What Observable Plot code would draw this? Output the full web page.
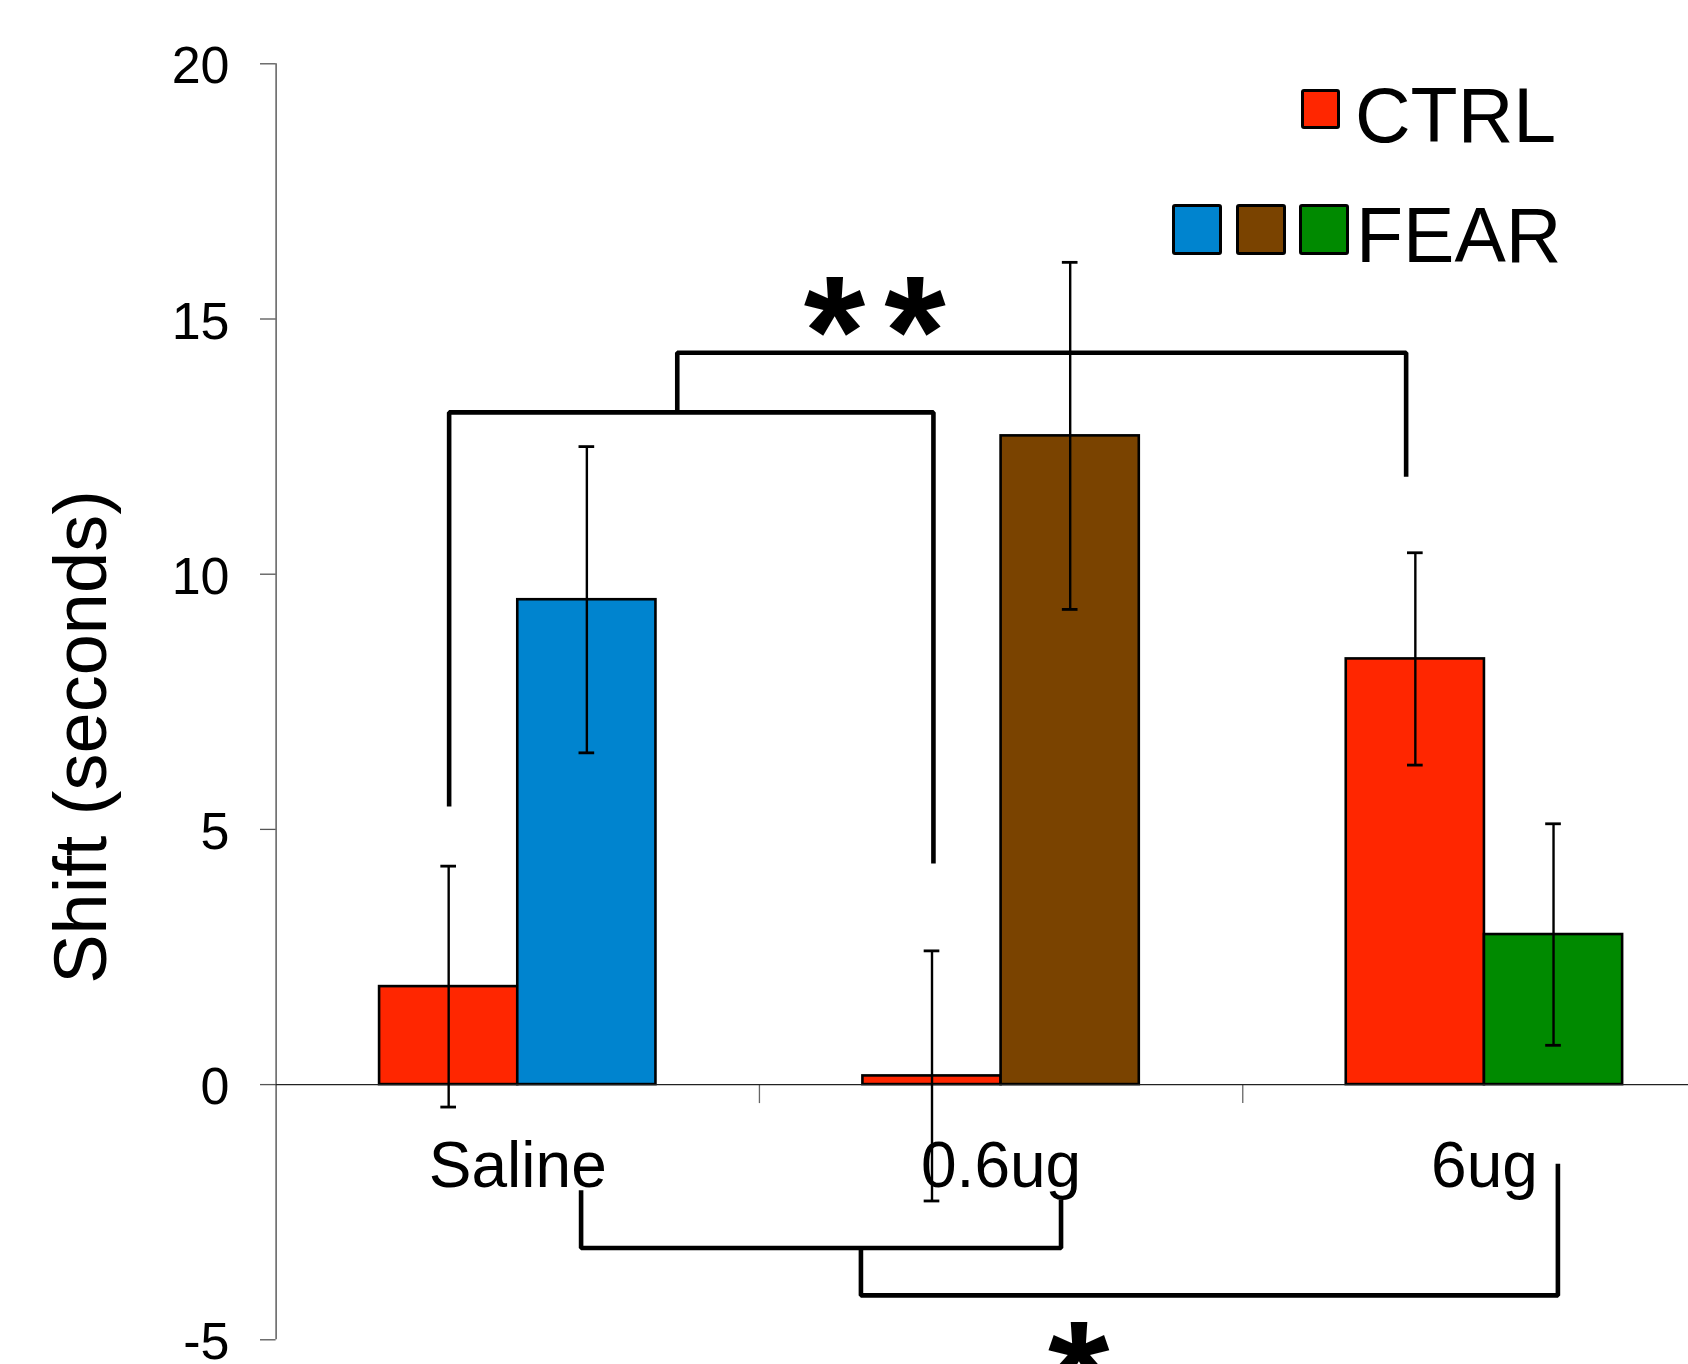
<!DOCTYPE html>
<html>
<head>
<meta charset="utf-8">
<script src="https://cdn.jsdelivr.net/npm/d3@7"></script>
<script src="https://cdn.jsdelivr.net/npm/@observablehq/plot@0.6"></script>
<style>
  body { margin: 0; background: #fff; }
  #wrap { position: relative; width: 1688px; height: 1364px; overflow: hidden; font-family: "Liberation Sans", Arial, sans-serif; background: #fff; }
  #wrap svg { display: block; }
  .sw { position: absolute; border: 3px solid #000; border-radius: 3px; box-sizing: border-box; }
  .lt { position: absolute; font-size: 77px; line-height: 1; color: #000; white-space: nowrap; }
</style>
</head>
<body>
<div id="wrap"></div>
<script>
// ---- data ----
const categories = ["Saline", "0.6ug", "6ug"];
const ctrlMean = [1.92, 0.17, 8.34];
const ctrlErr  = [2.36, 2.45, 2.08];
const fearMean = [9.50, 12.71, 2.94];
const fearErr  = [3.00, 3.40, 2.17];
const ctrlColor = "#ff2600";
const fearColors = ["#0084cf", "#7a4300", "#008a00"];
const yTicks = [-5, 0, 5, 10, 15, 20];
const yLabel = "Shift (seconds)";
const legendLabels = ["CTRL", "FEAR"];
// significance brackets: x in group units (group i spans i..i+1), y in seconds
const bracketA = [[0.358, 5.45], [0.358, 13.17], [1.360, 13.17], [1.360, 4.33]];
const bracketB = [[0.830, 13.17], [0.830, 14.34], [2.338, 14.34], [2.338, 11.91]];
const bracketC = [[0.631, -2.07], [0.631, -3.20], [1.624, -3.20], [1.624, -2.25]];
const bracketD = [[1.210, -3.20], [1.210, -4.13], [2.652, -4.13], [2.652, -1.55]];
const sigLabels = ["**", "*"];
const sigX = [1.2385, 1.6608];
const sigY = [15.23, -5.24];

// ---- layout / style ----
const W = 1688, H = 1364;
const mLeft = 275.6, mTop = 63.3, mBottom = 24.7;
const xRange = [275.6, 1725.6];
const BAR_IN = 0.2141;        // gap before first bar in a group (group units)
const CAP_HALF = 0.0162;      // half cap width (group units)
const FONT = '"Liberation Sans", Arial, sans-serif';

const bars = [];
categories.forEach((c, i) => {
  bars.push({cat: c, g: i, series: "CTRL", value: ctrlMean[i], err: ctrlErr[i], color: ctrlColor});
  bars.push({cat: c, g: i, series: "FEAR", value: fearMean[i], err: fearErr[i], color: fearColors[i]});
});
const bx1 = d => d.g + (d.series === "CTRL" ? BAR_IN : 0.5);
const bx2 = d => d.g + (d.series === "CTRL" ? 0.5 : 1 - BAR_IN);
const bxc = d => (bx1(d) + bx2(d)) / 2;
const caps = bars.flatMap(d => [
  {x1: bxc(d) - CAP_HALF, x2: bxc(d) + CAP_HALF, y: d.value + d.err},
  {x1: bxc(d) - CAP_HALF, x2: bxc(d) + CAP_HALF, y: d.value - d.err}
]);
const bracketPts = [bracketA, bracketB, bracketC, bracketD]
  .flatMap((b, k) => b.map(([x, y]) => ({id: k, x, y})));
const sig = sigLabels.map((t, i) => ({text: t, x: sigX[i], y: sigY[i]}));

// asterisk metrics: ink height ~60px, pair spacing ~80.7px
const ctx = document.createElement("canvas").getContext("2d");
ctx.font = `bold 100px ${FONT}`;
const m = ctx.measureText("*");
const inkH = (m.actualBoundingBoxAscent + m.actualBoundingBoxDescent) || 34;
const starSize = 100 * 60 / inkH;
const starMidEm = ((m.actualBoundingBoxAscent - m.actualBoundingBoxDescent) / 2 || 57) / 100;
const starAdv = (m.width || 38.9) / 100 * starSize;
const starSpacing = 80.7 - starAdv;

const plot = Plot.plot({
  width: W, height: H,
  marginLeft: mLeft, marginRight: 0, marginTop: mTop, marginBottom: mBottom,
  style: {fontFamily: FONT, background: "#fff", color: "#000", overflow: "hidden"},
  x: {domain: [0, 3], range: xRange, axis: null},
  y: {domain: [-5, 20], axis: null},
  color: {type: "identity"},
  marks: [
    Plot.axisY({ticks: yTicks, tickSize: 15.6, tickPadding: 31, fontSize: 52, stroke: "#555", strokeWidth: 1.3, tickFormat: d => String(d), label: null}),
    Plot.ruleX([0], {stroke: "#444", strokeWidth: 1.3}),
    Plot.ruleX([1, 2], {y1: () => 0, y2: () => 0, insetBottom: -19, stroke: "#666", strokeWidth: 1.3}),
    Plot.rect(bars, {x1: bx1, x2: bx2, y1: () => 0, y2: "value", fill: "color", stroke: "#000", strokeWidth: 2.6}),
    Plot.ruleY([0], {stroke: "#222", strokeWidth: 1.3}),
    Plot.ruleX(bars, {x: bxc, y1: d => d.value - d.err, y2: d => d.value + d.err, stroke: "#000", strokeWidth: 2.4}),
    Plot.ruleY(caps, {x1: "x1", x2: "x2", y: "y", stroke: "#000", strokeWidth: 2.8}),
    Plot.text(categories, {x: (d, i) => i + 0.5, y: () => 0, text: d => d, lineAnchor: "top", dy: 57, fontSize: 64, fill: "#000"}),
    Plot.line(bracketPts, {x: "x", y: "y", z: "id", stroke: "#000", strokeWidth: 4.6, strokeLinejoin: "miter", strokeLinecap: "butt"}),
    Plot.text(sig, {x: "x", y: "y", text: "text", fontSize: starSize, fontWeight: "bold", lineAnchor: "bottom", dy: starMidEm * starSize, fill: "#000"}),
    Plot.text([yLabel], {frameAnchor: "left", rotate: -90, dx: 105 - mLeft, dy: 736.5 - (mTop + H - mBottom) / 2, fontSize: 74, lineAnchor: "bottom", textAnchor: "middle", fill: "#000"})
  ]
});

// letter spacing for the double asterisk
plot.querySelectorAll("text").forEach(t => {
  if (t.textContent === "**") {
    t.setAttribute("letter-spacing", starSpacing);
    t.setAttribute("dx", starSpacing / 2);
  }
});
// nudge y tick labels (only the text) slightly down
plot.querySelectorAll('g[aria-label="y-axis tick label"]').forEach(g => {
  const tr = g.getAttribute("transform") || "";
  g.setAttribute("transform", (tr + " translate(0,3)").trim());
});

const wrap = document.getElementById("wrap");
wrap.appendChild(plot);

// legend (inside the plot area, top right)
function sw(left, top, size, color) {
  const d = document.createElement("div");
  d.className = "sw";
  Object.assign(d.style, {left: left + "px", top: top + "px", width: size + "px", height: size + "px", background: color});
  wrap.appendChild(d);
}
function lt(left, top, text) {
  const d = document.createElement("div");
  d.className = "lt";
  Object.assign(d.style, {left: left + "px", top: top + "px"});
  d.textContent = text;
  wrap.appendChild(d);
}
sw(1300.5, 89, 39.5, ctrlColor);
lt(1355, 76.5, legendLabels[0]);
sw(1171.7, 204, 50.5, fearColors[0]);
sw(1235.8, 204, 50.5, fearColors[1]);
sw(1298.8, 204, 50.5, fearColors[2]);
lt(1356, 196.5, legendLabels[1]);
</script>
</body>
</html>
